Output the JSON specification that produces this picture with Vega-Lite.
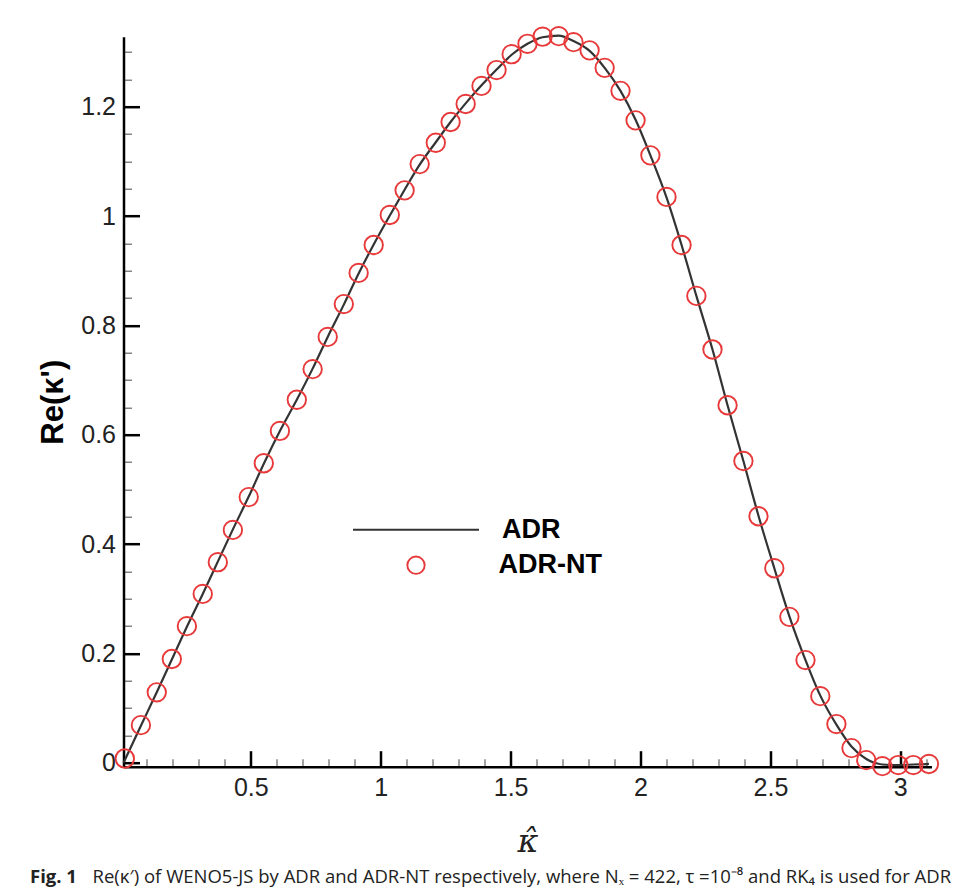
{
  "$schema": "https://vega.github.io/schema/vega-lite/v6.json",
  "width": 808,
  "height": 730,
  "autosize": "none",
  "padding": {"left": 123.5, "top": 36.7, "right": 25.5, "bottom": 124.3},
  "background": "white",
  "config": {"view": {"stroke": null}, "font": "Liberation Sans"},
  "title": {
    "text": "Fig. 1",
    "subtitle": "\u200b\u00a0\u00a0\u00a0\u00a0\u00a0\u00a0\u00a0\u00a0\u00a0\u00a0\u00a0\u00a0\u00a0Re(κ′) of WENO5-JS by ADR and ADR-NT respectively, where Nₓ = 422, τ =10⁻⁸ and RK₄ is used for ADR",
    "orient": "bottom",
    "anchor": "start",
    "frame": "bounds",
    "font": "Open Sans",
    "fontSize": 18.5,
    "fontWeight": "bold",
    "color": "#222222",
    "subtitleFont": "Open Sans",
    "subtitleFontSize": 18.5,
    "subtitleFontWeight": "normal",
    "subtitleColor": "#222222",
    "subtitlePadding": -18.5,
    "offset": 10,
    "dx": -7
  },
  "datasets": {
    "adr": [
      {"k": 0.01, "re": 0.0, "series": "ADR"},
      {"k": 0.077, "re": 0.068, "series": "ADR"},
      {"k": 0.138, "re": 0.129, "series": "ADR"},
      {"k": 0.196, "re": 0.189, "series": "ADR"},
      {"k": 0.254, "re": 0.249, "series": "ADR"},
      {"k": 0.315, "re": 0.309, "series": "ADR"},
      {"k": 0.373, "re": 0.368, "series": "ADR"},
      {"k": 0.431, "re": 0.427, "series": "ADR"},
      {"k": 0.492, "re": 0.487, "series": "ADR"},
      {"k": 0.55, "re": 0.547, "series": "ADR"},
      {"k": 0.612, "re": 0.607, "series": "ADR"},
      {"k": 0.677, "re": 0.664, "series": "ADR"},
      {"k": 0.738, "re": 0.721, "series": "ADR"},
      {"k": 0.796, "re": 0.779, "series": "ADR"},
      {"k": 0.858, "re": 0.838, "series": "ADR"},
      {"k": 0.915, "re": 0.895, "series": "ADR"},
      {"k": 0.973, "re": 0.948, "series": "ADR"},
      {"k": 1.035, "re": 1.001, "series": "ADR"},
      {"k": 1.092, "re": 1.048, "series": "ADR"},
      {"k": 1.15, "re": 1.094, "series": "ADR"},
      {"k": 1.212, "re": 1.135, "series": "ADR"},
      {"k": 1.269, "re": 1.172, "series": "ADR"},
      {"k": 1.327, "re": 1.206, "series": "ADR"},
      {"k": 1.388, "re": 1.239, "series": "ADR"},
      {"k": 1.446, "re": 1.268, "series": "ADR"},
      {"k": 1.504, "re": 1.295, "series": "ADR"},
      {"k": 1.565, "re": 1.315, "series": "ADR"},
      {"k": 1.623, "re": 1.327, "series": "ADR"},
      {"k": 1.685, "re": 1.33, "series": "ADR"},
      {"k": 1.742, "re": 1.32, "series": "ADR"},
      {"k": 1.804, "re": 1.302, "series": "ADR"},
      {"k": 1.862, "re": 1.271, "series": "ADR"},
      {"k": 1.923, "re": 1.229, "series": "ADR"},
      {"k": 1.981, "re": 1.176, "series": "ADR"},
      {"k": 2.038, "re": 1.111, "series": "ADR"},
      {"k": 2.1, "re": 1.034, "series": "ADR"},
      {"k": 2.158, "re": 0.947, "series": "ADR"},
      {"k": 2.215, "re": 0.854, "series": "ADR"},
      {"k": 2.277, "re": 0.756, "series": "ADR"},
      {"k": 2.335, "re": 0.654, "series": "ADR"},
      {"k": 2.396, "re": 0.552, "series": "ADR"},
      {"k": 2.454, "re": 0.452, "series": "ADR"},
      {"k": 2.515, "re": 0.356, "series": "ADR"},
      {"k": 2.573, "re": 0.268, "series": "ADR"},
      {"k": 2.635, "re": 0.188, "series": "ADR"},
      {"k": 2.692, "re": 0.123, "series": "ADR"},
      {"k": 2.754, "re": 0.07, "series": "ADR"},
      {"k": 2.812, "re": 0.03, "series": "ADR"},
      {"k": 2.869, "re": 0.007, "series": "ADR"},
      {"k": 2.931, "re": -0.003, "series": "ADR"},
      {"k": 2.992, "re": -0.004, "series": "ADR"},
      {"k": 3.05, "re": -0.003, "series": "ADR"},
      {"k": 3.11, "re": -0.002, "series": "ADR"}
    ],
    "nt": [
      {"k": 0.015, "re": 0.008, "series": "ADR-NT"},
      {"k": 0.077, "re": 0.069, "series": "ADR-NT"},
      {"k": 0.138, "re": 0.129, "series": "ADR-NT"},
      {"k": 0.196, "re": 0.19, "series": "ADR-NT"},
      {"k": 0.254, "re": 0.25, "series": "ADR-NT"},
      {"k": 0.315, "re": 0.309, "series": "ADR-NT"},
      {"k": 0.373, "re": 0.367, "series": "ADR-NT"},
      {"k": 0.431, "re": 0.426, "series": "ADR-NT"},
      {"k": 0.492, "re": 0.486, "series": "ADR-NT"},
      {"k": 0.55, "re": 0.548, "series": "ADR-NT"},
      {"k": 0.612, "re": 0.607, "series": "ADR-NT"},
      {"k": 0.677, "re": 0.664, "series": "ADR-NT"},
      {"k": 0.738, "re": 0.72, "series": "ADR-NT"},
      {"k": 0.796, "re": 0.779, "series": "ADR-NT"},
      {"k": 0.858, "re": 0.839, "series": "ADR-NT"},
      {"k": 0.915, "re": 0.896, "series": "ADR-NT"},
      {"k": 0.973, "re": 0.947, "series": "ADR-NT"},
      {"k": 1.035, "re": 1.002, "series": "ADR-NT"},
      {"k": 1.092, "re": 1.047, "series": "ADR-NT"},
      {"k": 1.15, "re": 1.095, "series": "ADR-NT"},
      {"k": 1.212, "re": 1.134, "series": "ADR-NT"},
      {"k": 1.269, "re": 1.172, "series": "ADR-NT"},
      {"k": 1.327, "re": 1.205, "series": "ADR-NT"},
      {"k": 1.388, "re": 1.238, "series": "ADR-NT"},
      {"k": 1.446, "re": 1.267, "series": "ADR-NT"},
      {"k": 1.504, "re": 1.296, "series": "ADR-NT"},
      {"k": 1.565, "re": 1.315, "series": "ADR-NT"},
      {"k": 1.623, "re": 1.328, "series": "ADR-NT"},
      {"k": 1.685, "re": 1.329, "series": "ADR-NT"},
      {"k": 1.742, "re": 1.318, "series": "ADR-NT"},
      {"k": 1.804, "re": 1.303, "series": "ADR-NT"},
      {"k": 1.862, "re": 1.271, "series": "ADR-NT"},
      {"k": 1.923, "re": 1.229, "series": "ADR-NT"},
      {"k": 1.981, "re": 1.175, "series": "ADR-NT"},
      {"k": 2.038, "re": 1.111, "series": "ADR-NT"},
      {"k": 2.1, "re": 1.035, "series": "ADR-NT"},
      {"k": 2.158, "re": 0.947, "series": "ADR-NT"},
      {"k": 2.215, "re": 0.854, "series": "ADR-NT"},
      {"k": 2.277, "re": 0.756, "series": "ADR-NT"},
      {"k": 2.335, "re": 0.654, "series": "ADR-NT"},
      {"k": 2.396, "re": 0.552, "series": "ADR-NT"},
      {"k": 2.454, "re": 0.451, "series": "ADR-NT"},
      {"k": 2.515, "re": 0.356, "series": "ADR-NT"},
      {"k": 2.573, "re": 0.267, "series": "ADR-NT"},
      {"k": 2.635, "re": 0.188, "series": "ADR-NT"},
      {"k": 2.692, "re": 0.122, "series": "ADR-NT"},
      {"k": 2.754, "re": 0.071, "series": "ADR-NT"},
      {"k": 2.812, "re": 0.027, "series": "ADR-NT"},
      {"k": 2.869, "re": 0.005, "series": "ADR-NT"},
      {"k": 2.931, "re": -0.006, "series": "ADR-NT"},
      {"k": 2.992, "re": -0.004, "series": "ADR-NT"},
      {"k": 3.05, "re": -0.004, "series": "ADR-NT"},
      {"k": 3.11, "re": -0.002, "series": "ADR-NT"}
    ]
  },
  "encoding": {
    "x": {
      "field": "k", "type": "quantitative",
      "scale": {"domain": [0.01, 3.12], "nice": false, "zero": false},
      "axis": {
        "title": "κ̂",
        "titleFont": "DejaVu Serif",
        "titleFontStyle": "italic",
        "titleFontWeight": "normal",
        "titleFontSize": 32,
        "titleColor": "#222222",
        "titlePadding": 18,
        "values": [0.1, 0.2, 0.3, 0.4, 0.5, 0.6, 0.7, 0.8, 0.9, 1, 1.1, 1.2, 1.3, 1.4, 1.5, 1.6, 1.7, 1.8, 1.9, 2, 2.1, 2.2, 2.3, 2.4, 2.5, 2.6, 2.7, 2.8, 2.9, 3, 3.1],
        "labelExpr": "abs(datum.value*2-round(datum.value*2))<0.001 ? format(datum.value,'~g') : ''",
        "labelFont": "Liberation Sans",
        "labelFontSize": 25,
        "labelColor": "#222222",
        "labelPadding": 25,
        "labelFlush": false,
        "labelOverlap": false,
        "domainColor": "black",
        "domainWidth": 2.5,
        "tickSize": {"condition": {"test": "abs(datum.value*2-round(datum.value*2))<0.001", "value": -16}, "value": -8},
        "tickWidth": {"condition": {"test": "abs(datum.value*2-round(datum.value*2))<0.001", "value": 2.5}, "value": 1.2},
        "tickColor": {"condition": {"test": "abs(datum.value*2-round(datum.value*2))<0.001", "value": "black"}, "value": "#666666"},
        "grid": false
      }
    },
    "y": {
      "field": "re", "type": "quantitative",
      "scale": {"domain": [-0.007, 1.328], "nice": false, "zero": false},
      "axis": {
        "title": "Re(κ')",
        "titleFont": "Liberation Sans",
        "titleFontWeight": "bold",
        "titleFontSize": 31,
        "titleColor": "black",
        "titleX": -61.5,
        "titleY": 365,
        "titleAngle": 270,
        "titleAlign": "center",
        "titleBaseline": "alphabetic",
        "values": [0, 0.05, 0.1, 0.15, 0.2, 0.25, 0.3, 0.35, 0.4, 0.45, 0.5, 0.55, 0.6, 0.65, 0.7, 0.75, 0.8, 0.85, 0.9, 0.95, 1, 1.05, 1.1, 1.15, 1.2, 1.25, 1.3],
        "labelExpr": "abs(datum.value*5-round(datum.value*5))<0.001 ? format(datum.value,'~g') : ''",
        "labelFont": "Liberation Sans",
        "labelFontSize": 25,
        "labelColor": "#222222",
        "labelPadding": 24,
        "labelFlush": false,
        "labelOverlap": false,
        "domainColor": "black",
        "domainWidth": 2.5,
        "tickSize": {"condition": {"test": "abs(datum.value*5-round(datum.value*5))<0.001", "value": -16}, "value": -8},
        "tickWidth": {"condition": {"test": "abs(datum.value*5-round(datum.value*5))<0.001", "value": 2.5}, "value": 1.2},
        "tickColor": {"condition": {"test": "abs(datum.value*5-round(datum.value*5))<0.001", "value": "black"}, "value": "#666666"},
        "grid": false
      }
    }
  },
  "layer": [
    {
      "data": {"name": "adr"},
      "mark": {"type": "line", "interpolate": "monotone", "strokeWidth": 2.2, "clip": false},
      "encoding": {
        "color": {
          "field": "series", "type": "nominal",
          "scale": {"domain": ["ADR"], "range": ["#333333"]},
          "legend": {
            "title": null,
            "orient": "none",
            "legendX": 228.5,
            "legendY": 429,
            "padding": 0,
            "symbolType": "stroke",
            "symbolSize": 15876,
            "symbolStrokeWidth": 2,
            "labelOffset": 22,
            "labelFont": "Liberation Sans",
            "labelFontSize": 27,
            "labelFontWeight": "bold",
            "labelColor": "black",
            "labelLimit": 300
          }
        }
      }
    },
    {
      "data": {"name": "nt"},
      "mark": {"type": "point", "shape": "circle", "filled": false, "size": 340, "strokeWidth": 1.9, "opacity": 1, "clip": false},
      "encoding": {
        "color": {
          "field": "series", "type": "nominal",
          "scale": {"domain": ["ADR-NT"], "range": ["#e8393a"]},
          "legend": {
            "title": null,
            "orient": "none",
            "legendX": 279,
            "legendY": 515,
            "padding": 0,
            "symbolType": "circle",
            "symbolSize": 300,
            "symbolStrokeWidth": 1.9,
            "symbolFillColor": "transparent",
            "labelOffset": 69,
            "labelFont": "Liberation Sans",
            "labelFontSize": 27,
            "labelFontWeight": "bold",
            "labelColor": "black",
            "labelLimit": 300
          }
        }
      }
    }
  ],
  "resolve": {"scale": {"color": "independent"}, "legend": {"color": "independent"}}
}
